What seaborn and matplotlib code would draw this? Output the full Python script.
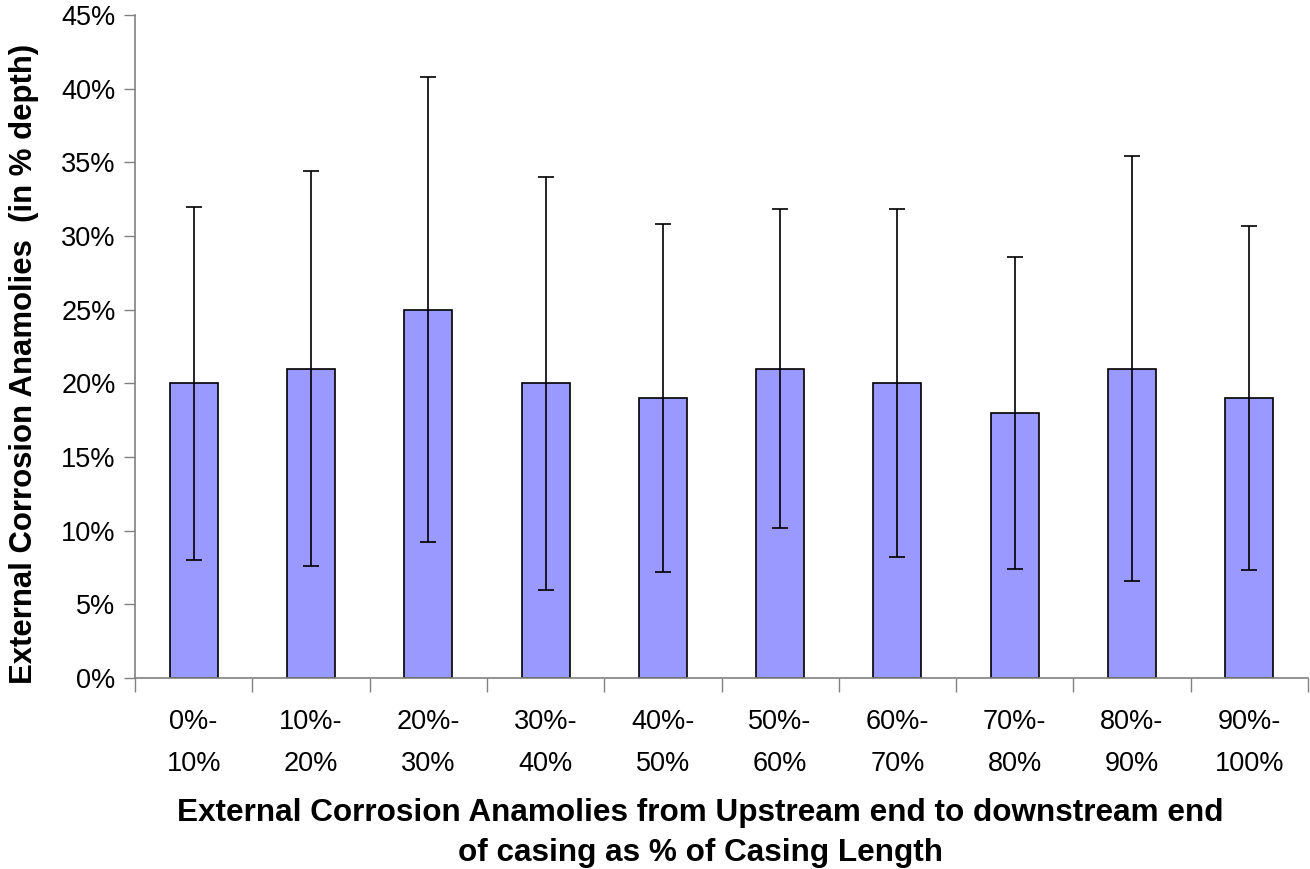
import matplotlib
matplotlib.use("Agg")
import matplotlib.pyplot as plt
import seaborn as sns
import numpy as np
import pandas as pd

categories = ["0%-\n10%", "10%-\n20%", "20%-\n30%", "30%-\n40%", "40%-\n50%",
              "50%-\n60%", "60%-\n70%", "70%-\n80%", "80%-\n90%", "90%-\n100%"]
means = [20, 21, 25, 20, 19, 21, 20, 18, 21, 19]
errors = [12.0, 13.4, 15.8, 14.0, 11.8, 10.8, 11.8, 10.6, 14.4, 11.7]
yticks = [0, 5, 10, 15, 20, 25, 30, 35, 40, 45]

sns.set_theme(style="white")
plt.rcParams['font.family'] = ['Liberation Sans', 'DejaVu Sans']
plt.rcParams['text.color'] = 'black'
plt.rcParams['axes.labelcolor'] = 'black'
plt.rcParams['xtick.color'] = 'black'
plt.rcParams['ytick.color'] = 'black'

df = pd.DataFrame({"cat": categories, "val": means})

fig = plt.figure(figsize=(13.1, 8.69), dpi=100)
ax = fig.add_axes([135/1310, 1 - 678/869, 1173/1310, 663/869])

sns.barplot(data=df, x="cat", y="val", color="#9999FF", edgecolor="black",
            linewidth=1.2, width=0.41, saturation=1, ax=ax, errorbar=None)
ax.errorbar(np.arange(len(means)), means, yerr=errors, fmt="none",
            ecolor="black", elinewidth=1.2, capsize=6, capthick=1.2)

ax.set_xlim(-0.5, len(means) - 0.5)
ax.set_ylim(0, 45)
ax.set_yticks(yticks)
ax.set_yticklabels([f"{v}%" for v in yticks], fontsize=19.5)

ax.set_xticks(np.arange(len(means)))
ax.set_xticklabels(categories, fontsize=19.5, linespacing=1.8)
ax.set_xticks(np.arange(len(means) + 1) - 0.5, minor=True)
ax.tick_params(axis="x", which="major", length=0, pad=22)
ax.tick_params(axis="x", which="minor", length=10, width=1, color="#808080", direction="out", bottom=True)
ax.tick_params(axis="y", which="major", length=8, width=1, color="#808080", labelcolor="black",
               direction="out", left=True, pad=6)

for s in ["top", "right"]:
    ax.spines[s].set_visible(False)
for s in ["left", "bottom"]:
    ax.spines[s].set_color("#808080")
    ax.spines[s].set_linewidth(1.2)

ax.set_ylabel("External Corrosion Anamolies  (in % depth)", fontsize=22.4, fontweight="bold")
ax.yaxis.set_label_coords(-0.0815, 0.474)
ax.set_xlabel("External Corrosion Anamolies from Upstream end to downstream end\nof casing as % of Casing Length",
              fontsize=22.7, fontweight="bold", linespacing=1.42)
ax.xaxis.set_label_coords(0.4817, -0.181)

fig.savefig("out.png", dpi=100, facecolor="white")
